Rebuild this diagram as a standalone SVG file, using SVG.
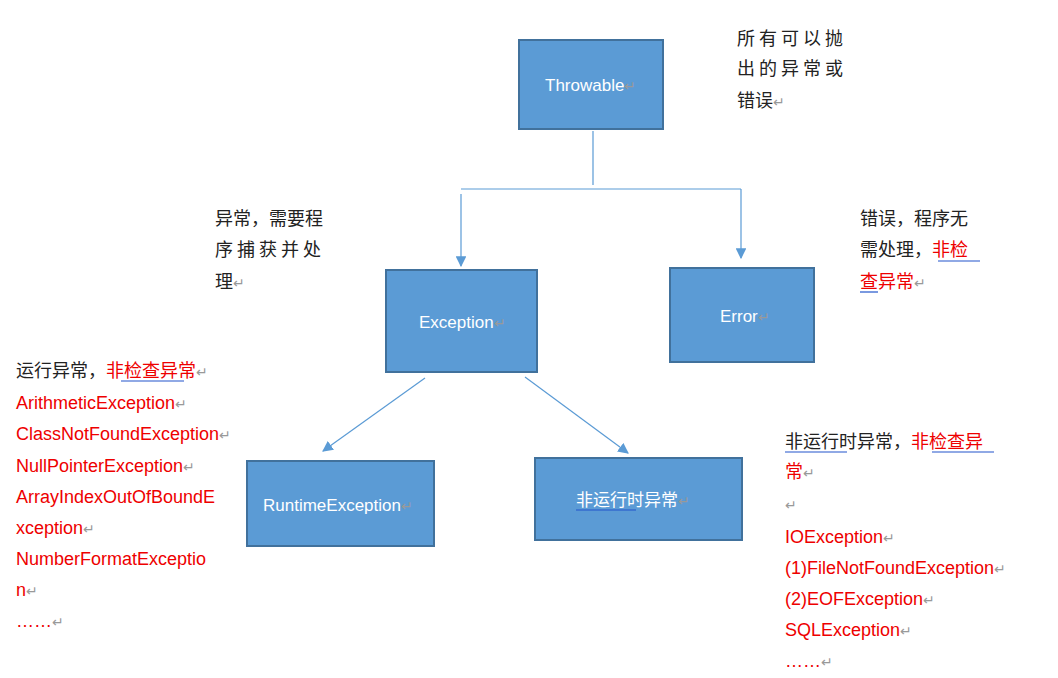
<svg xmlns="http://www.w3.org/2000/svg" width="1058" height="678" viewBox="0 0 1058 678">
<style>
.box{fill:#5b9bd5;stroke:#41719c;stroke-width:2}
.bt{fill:#fff;font-family:"Liberation Sans","Noto Sans CJK SC",sans-serif;font-size:17px}
.t{font-family:"Liberation Sans","Noto Sans CJK SC",sans-serif;font-size:18px;fill:#222}
.r{fill:#e00}
.g{fill:#999;font-size:14px}
.ln{stroke:#5b9bd5;stroke-width:1.2;fill:none}
.u{stroke:#2255cc;stroke-width:1.2}
</style>
<defs><marker id="a" viewBox="0 0 10 10" refX="9" refY="5" markerWidth="9" markerHeight="9" orient="auto"><path d="M0,0L10,5L0,10z" fill="#5b9bd5"/></marker></defs>
<rect width="1058" height="678" fill="#fff"/>
<g id="connectors">
<path class="ln" d="M593,131V185M461,189H741"/>
<path class="ln" d="M461,194V266" marker-end="url(#a)"/>
<path class="ln" d="M741,189V258" marker-end="url(#a)"/>
<path class="ln" d="M425,378L323,451" marker-end="url(#a)"/>
<path class="ln" d="M525,377L628,453" marker-end="url(#a)"/>
</g>
<g id="throwable"><rect class="box" x="519" y="40" width="144" height="89"/><text class="bt" x="545" y="91">Throwable<tspan class="g">↵</tspan></text></g>
<g id="exception"><rect class="box" x="386" y="270" width="151" height="102"/><text class="bt" x="419" y="328">Exception<tspan class="g">↵</tspan></text></g>
<g id="error"><rect class="box" x="670" y="268" width="144" height="94"/><text class="bt" x="720" y="322">Error<tspan class="g">↵</tspan></text></g>
<g id="runtime"><rect class="box" x="247" y="461" width="187" height="85"/><text class="bt" x="263" y="511">RuntimeException<tspan class="g">↵</tspan></text></g>
<g id="nonruntime"><rect class="box" x="535" y="458" width="207" height="82"/><text class="bt" x="576" y="506">非运行时异常<tspan class="g">↵</tspan></text><line class="u" x1="576" y1="510" x2="636" y2="510"/></g>
<g id="notes">
<text class="t" x="737" y="45" letter-spacing="4">所有可以抛</text>
<text class="t" x="737" y="75" letter-spacing="4">出的异常或</text>
<text class="t" x="737" y="107">错误<tspan class="g">↵</tspan></text>
<text class="t" x="215" y="225">异常，需要程</text>
<text class="t" x="215" y="256" letter-spacing="4">序捕获并处</text>
<text class="t" x="215" y="288">理<tspan class="g">↵</tspan></text>
<text class="t" x="860" y="225">错误，程序无</text>
<text class="t" x="860" y="256">需处理，<tspan class="r">非检</tspan></text>
<text class="t r" x="860" y="288">查异常<tspan class="g">↵</tspan></text>
<line class="u" x1="860" y1="292" x2="878" y2="292"/><line class="u" x1="938" y1="261" x2="980" y2="261"/>
<text class="t" x="16" y="377">运行异常，<tspan class="r">非检查异常</tspan><tspan class="g">↵</tspan></text>
<line class="u" x1="121" y1="381" x2="184" y2="381"/>
<g class="t r">
<text x="16" y="409">ArithmeticException<tspan class="g">↵</tspan></text>
<text x="16" y="440">ClassNotFoundException<tspan class="g">↵</tspan></text>
<text x="16" y="472">NullPointerException<tspan class="g">↵</tspan></text>
<text x="16" y="503">ArrayIndexOutOfBoundE</text>
<text x="16" y="534">xception<tspan class="g">↵</tspan></text>
<text x="16" y="565">NumberFormatExceptio</text>
<text x="16" y="596">n<tspan class="g">↵</tspan></text>
<text x="16" y="627">……<tspan class="g">↵</tspan></text>
</g>
<text class="t" x="785" y="448">非运行时异常，<tspan class="r">非检查异</tspan></text>
<line class="u" x1="785" y1="452" x2="847" y2="452"/><line class="u" x1="932" y1="452" x2="994" y2="452"/>
<text class="t r" x="785" y="478">常<tspan class="g">↵</tspan></text>
<text class="t g" x="785" y="510">↵</text>
<g class="t r">
<text x="785" y="543">IOException<tspan class="g">↵</tspan></text>
<text x="785" y="574">(1)FileNotFoundException<tspan class="g">↵</tspan></text>
<text x="785" y="605">(2)EOFException<tspan class="g">↵</tspan></text>
<text x="785" y="636">SQLException<tspan class="g">↵</tspan></text>
<text x="785" y="667">……<tspan class="g">↵</tspan></text>
</g>
</g>
</svg>
